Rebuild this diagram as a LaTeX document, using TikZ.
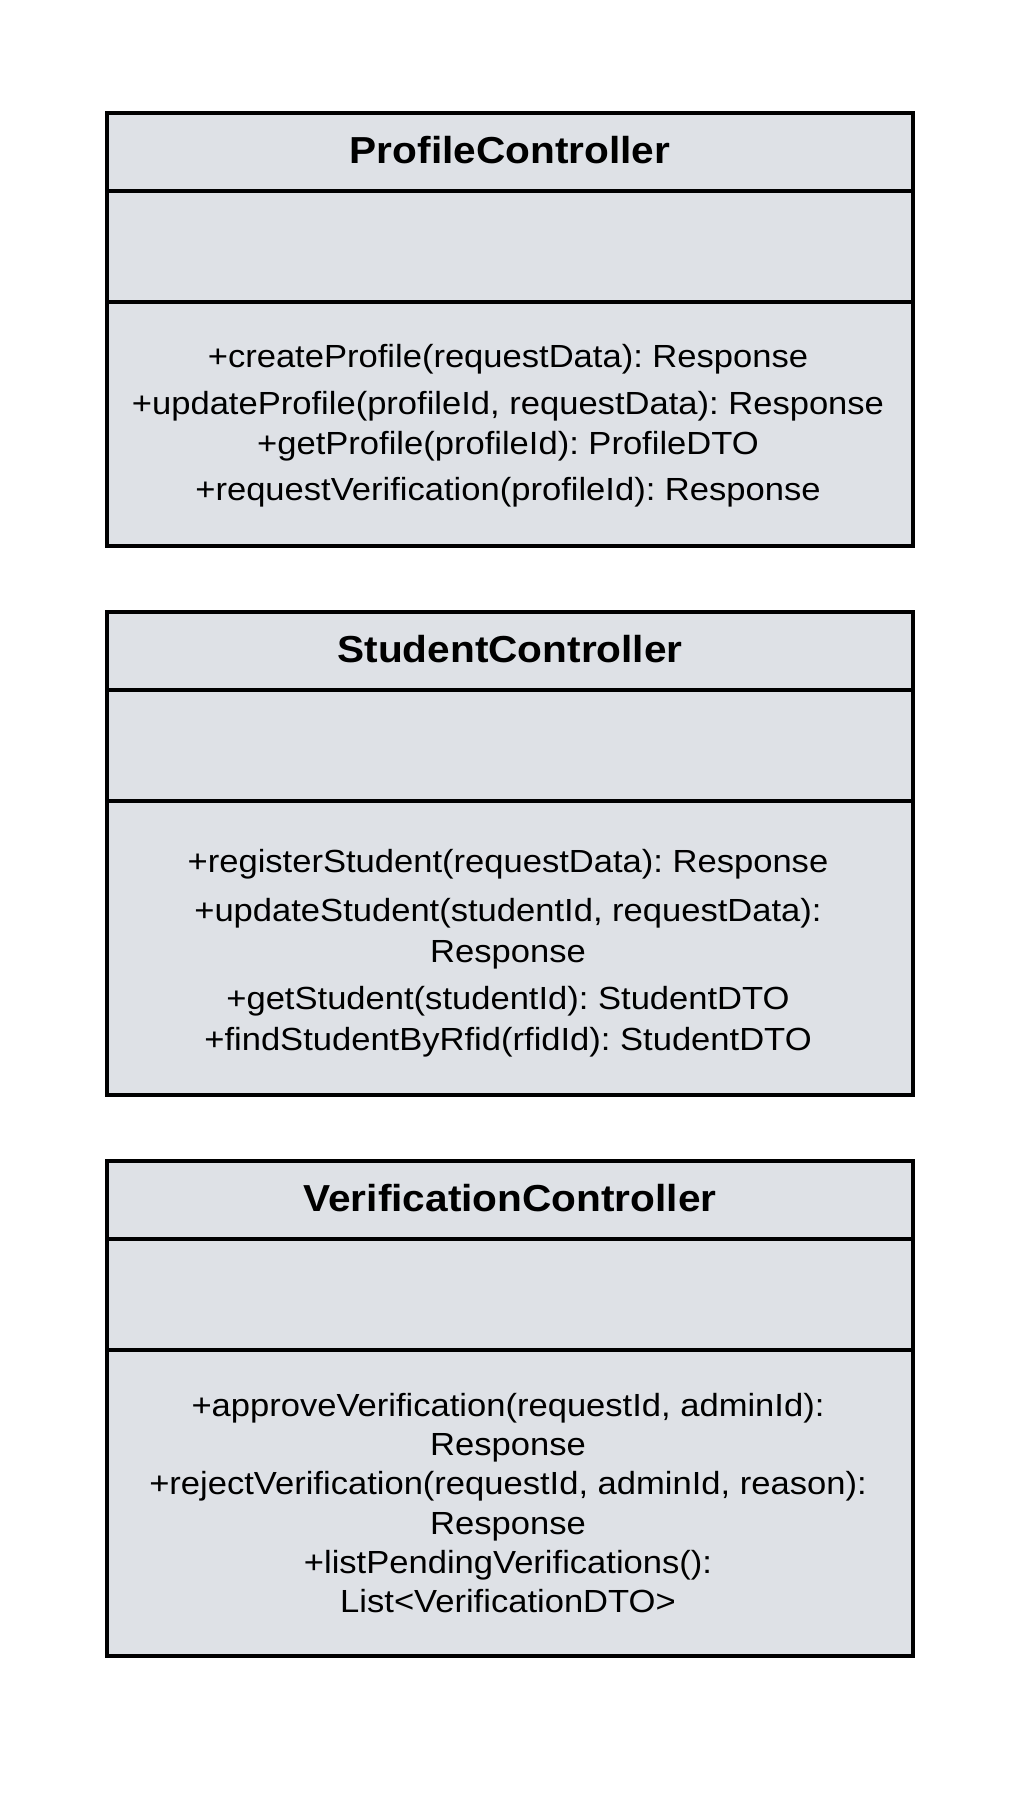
\documentclass[tikz,border=0pt]{standalone}
\usepackage{fontspec}
\setmainfont[FakeStretch=1.08]{Liberation Sans}
\definecolor{boxfill}{RGB}{222,225,230}
\begin{document}
\frenchspacing
\begin{tikzpicture}[x=0.5pt,y=-0.5pt,
  comp/.style={draw=black, fill=boxfill, line width=2pt, minimum width=403pt, inner sep=0pt, anchor=north west},
  head/.style={comp, minimum height=39pt, text depth=2.3pt, font=\fontsize{18.8pt}{22pt}\selectfont\bfseries},
  meth/.style={font=\fontsize{16pt}{19pt}\selectfont, anchor=base, inner sep=0pt}]
\useasboundingbox (0,0) rectangle (1026,1794);
% ProfileController
\node[head] (ph) at (105,111) {ProfileController};
\node[comp, minimum height=55.5pt] (pa) at (105,189) {};
\node[comp, minimum height=122pt] (pm) at (105,300) {};
\node[meth] (p1) at (508,367) {+createProfile(requestData): Response};
\node[meth] (p2) at (508,414) {+updateProfile(profileId, requestData): Response};
\node[meth] (p3) at (508,454) {+getProfile(profileId): ProfileDTO};
\node[meth] (p4) at (508,500) {+requestVerification(profileId): Response};
% StudentController
\node[head] (sh) at (105,610) {StudentController};
\node[comp, minimum height=55.5pt] (sa) at (105,688) {};
\node[comp, minimum height=147pt] (sm) at (105,799) {};
\node[meth] (s1) at (508,872) {+registerStudent(requestData): Response};
\node[meth] (s2) at (508,921) {+updateStudent(studentId, requestData):};
\node[meth] (s2b) at (508,962) {Response};
\node[meth] (s3) at (508,1009) {+getStudent(studentId): StudentDTO};
\node[meth] (s4) at (508,1050) {+findStudentByRfid(rfidId): StudentDTO};
% VerificationController
\node[head] (vh) at (105,1159) {VerificationController};
\node[comp, minimum height=55.5pt] (va) at (105,1237) {};
\node[comp, minimum height=153pt] (vm) at (105,1348) {};
\node[meth] (v1) at (508,1416) {+approveVerification(requestId, adminId):};
\node[meth] (v1b) at (508,1455) {Response};
\node[meth] (v2) at (508,1494) {+rejectVerification(requestId, adminId, reason):};
\node[meth] (v2b) at (508,1534) {Response};
\node[meth] (v3) at (508,1573) {+listPendingVerifications():};
\node[meth] (v3b) at (508,1612) {List<VerificationDTO>};
\end{tikzpicture}
\end{document}
